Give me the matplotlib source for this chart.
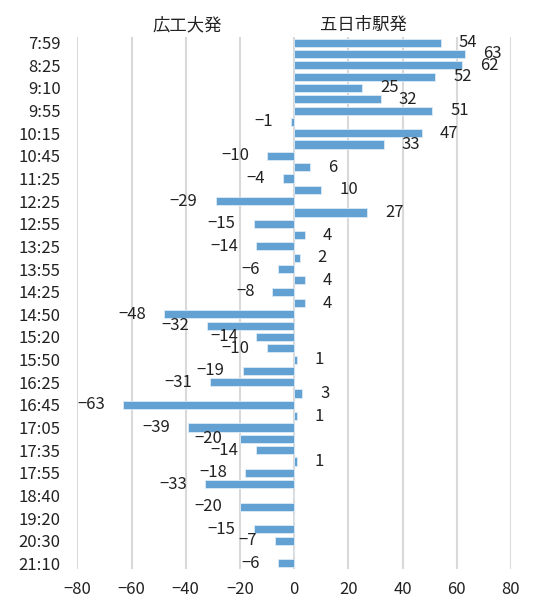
import numpy as np
import matplotlib
matplotlib.use("Agg")
import matplotlib.pyplot as plt

plt.rcParams["font.family"] = ["Noto Sans CJK JP", "DejaVu Sans"]
plt.rcParams["axes.unicode_minus"] = True

# departure times shown on the axis (every other row)
times = ["7:59", "8:25", "9:10", "9:55", "10:15", "10:45", "11:25", "12:25",
         "12:55", "13:25", "13:55", "14:25", "14:50", "15:20", "15:50", "16:25",
         "16:45", "17:05", "17:35", "17:55", "18:40", "19:20", "20:30", "21:10"]

# passengers per trip: positive = 五日市駅発, negative = 広工大発
values = [54, 63, 62, 52, 25, 32, 51, -1, 47, 33,
          -10, 6, -4, 10, -29, 27, -15, 4, -14, 2,
          -6, 4, -8, 4, -48, -32, -14, -10, 1, -19,
          -31, 3, -63, 1, -39, -20, -14, 1, -18, -33,
          0, -20, 0, -15, -7, 0, -6]

bar_color = "#63A1D3"
grid_color = "#D9D9D9"
text_color = "#222222"

fig = plt.figure(figsize=(5.34, 5.99), dpi=100)
ax = fig.add_axes([0.1448, 0.0501, 0.8122, 0.8881])

y = np.arange(len(values))
ax.barh(y, values, height=0.72, color=bar_color, edgecolor="#DCEAF6",
        linewidth=0.6, zorder=3)

# value labels just past the end of each bar
for yi, v in zip(y, values):
    if v == 0:
        continue
    txt = f"{v}".replace("-", "\u2212")
    off = 13 if v > 0 else -13
    ax.annotate(txt, xy=(v, yi), xytext=(off, 0), textcoords="offset points",
                ha="left" if v > 0 else "right", va="center",
                fontsize=12, color=text_color, zorder=4)

ax.set_xlim(-80, 80)
ax.set_ylim(len(values) - 0.5, -0.5)
ax.set_xticks(np.arange(-80, 81, 20))
ax.set_xticklabels([f"{t}".replace("-", "\u2212") for t in range(-80, 81, 20)])
ax.set_yticks(y[::2])
ax.set_yticklabels(times)

ax.grid(axis="x", color=grid_color, linewidth=1.5, zorder=0)
for s in ax.spines.values():
    s.set_visible(False)
ax.tick_params(axis="both", length=0, labelsize=12, colors=text_color)
ax.tick_params(axis="x", pad=9)
ax.tick_params(axis="y", pad=12)

fig.text(187 / 534, 1 - 25 / 599, "広工大発", ha="center", va="center",
         fontsize=12.5, color=text_color)
fig.text(363 / 534, 1 - 25 / 599, "五日市駅発", ha="center", va="center",
         fontsize=12.5, color=text_color)

fig.savefig("out.png", dpi=100)
